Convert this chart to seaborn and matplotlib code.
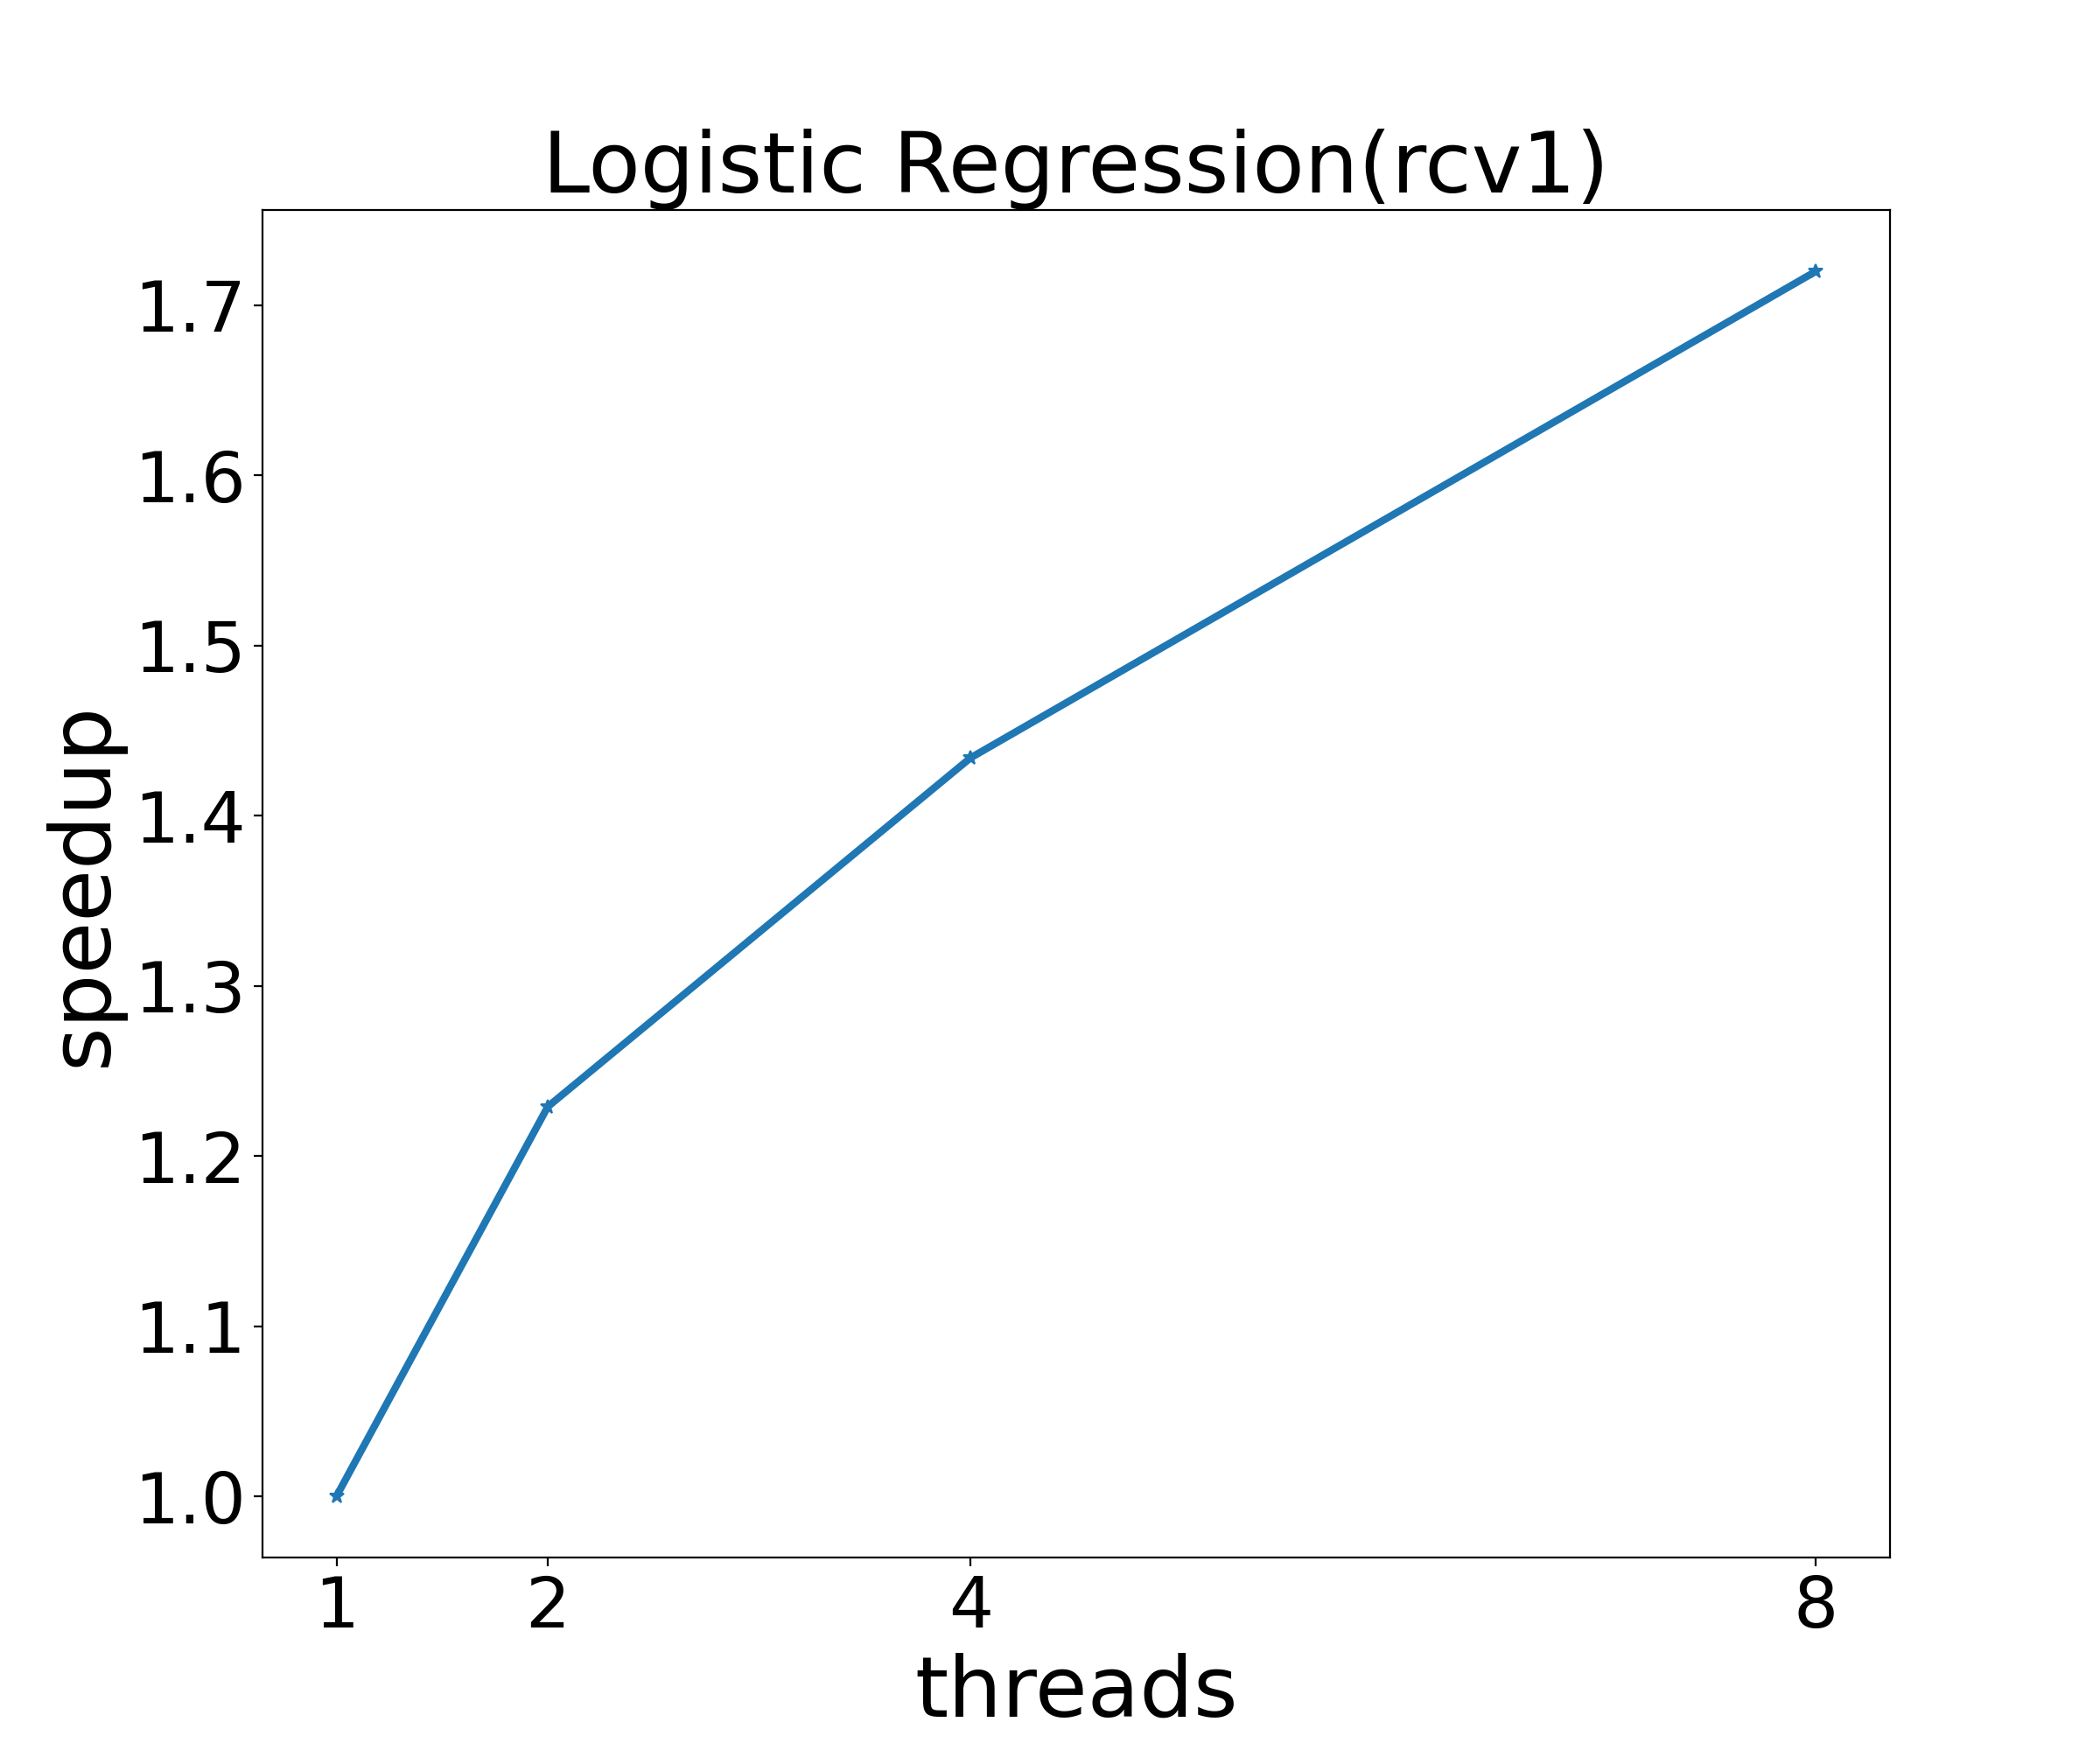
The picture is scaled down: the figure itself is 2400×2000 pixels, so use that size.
import numpy as np
import pandas as pd
import matplotlib
matplotlib.use("Agg")
import matplotlib.pyplot as plt
import seaborn as sns

# Data
threads = [1, 2, 4, 8]
speedup = [1.0, 1.229, 1.434, 1.72]

df = pd.DataFrame({"threads": threads, "speedup": speedup})

sns.set_style("ticks", {"text.color": "black", "axes.labelcolor": "black",
                        "xtick.color": "black", "ytick.color": "black",
                        "axes.edgecolor": "black"})
plt.rcParams["font.family"] = ["DejaVu Sans"]

fig, ax = plt.subplots(figsize=(12, 10), dpi=200)
sns.lineplot(data=df, x="threads", y="speedup", marker="*", markersize=6,
             linewidth=3, color="#1f77b4", markeredgecolor="#1f77b4", ax=ax)

ax.set_xticks(threads)
ax.set_xticklabels([str(t) for t in threads])
ax.tick_params(labelsize=29, colors="black")
ax.set_xlabel("threads", fontsize=35)
ax.set_ylabel("speedup", fontsize=35)
ax.set_title("Logistic Regression(rcv1)", fontsize=35)
for s in ax.spines.values():
    s.set_visible(True)
    s.set_linewidth(0.8)
    s.set_color("black")

plt.subplots_adjust(left=0.125, right=0.9, top=0.88, bottom=0.11)
plt.savefig("out.png", dpi=200)
